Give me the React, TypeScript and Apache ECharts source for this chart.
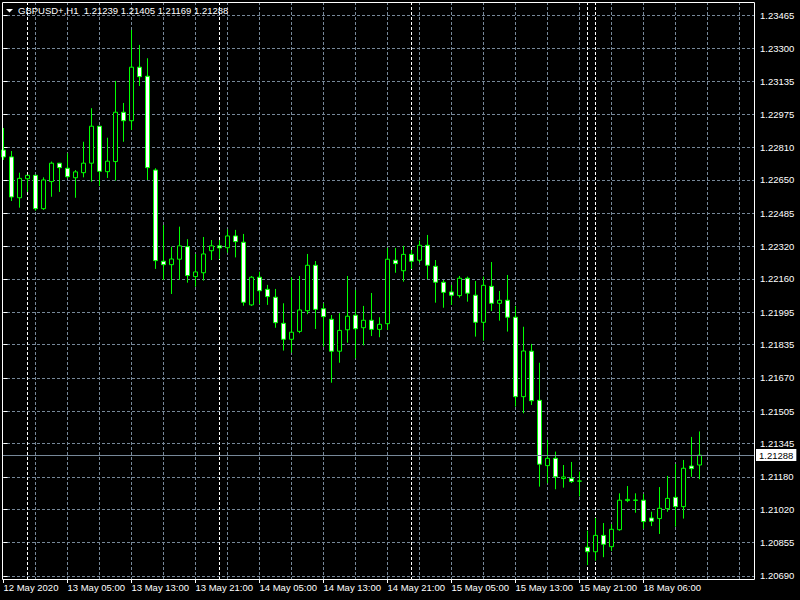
import React, { useEffect, useRef } from 'react';
import * as echarts from 'echarts';

const chartTitle = 'GBPUSD+,H1  1.21239 1.21405 1.21169 1.21288';

// Hourly bars, index 0 = 12 May 2020 21:00
const opens = [
  1.22797, 1.22763, 1.22561, 1.22655, 1.22672, 1.22507, 1.22641, 1.22732, 1.22707, 1.22660,
  1.22685, 1.22732, 1.22915, 1.22690, 1.22740, 1.22984, 1.22942, 1.23207, 1.23162, 1.22698,
  1.22247, 1.22230, 1.22257, 1.22319, 1.22171, 1.22190, 1.22299, 1.22323, 1.22314, 1.22372,
  1.22341, 1.22031, 1.22168, 1.22108, 1.22069, 1.21940, 1.21861, 1.21900, 1.22002, 1.22227,
  1.22012, 1.21960, 1.21802, 1.21908, 1.21980, 1.21918, 1.21955, 1.21910, 1.21938, 1.22252,
  1.22200, 1.22281, 1.22252, 1.22326, 1.22222, 1.22143, 1.22095, 1.22077, 1.22163, 1.22079,
  1.21945, 1.22123, 1.22039, 1.22054, 1.21970, 1.21577, 1.21802, 1.21559, 1.21236, 1.21272,
  1.21172, 1.21173, 1.21159, 1.20832, 1.20810, 1.20891, 1.20835, 1.20919, 1.21063, 1.21064,
  1.21065, 1.20977, 1.20974, 1.21023, 1.21079, 1.21033, 1.21234, 1.21239,
];
const closes = [
  1.22763, 1.22565, 1.22657, 1.22672, 1.22507, 1.22649, 1.22732, 1.22710, 1.22665, 1.22689,
  1.22732, 1.22915, 1.22692, 1.22742, 1.22984, 1.22942, 1.23207, 1.23160, 1.22710, 1.22250,
  1.22230, 1.22258, 1.22323, 1.22176, 1.22194, 1.22283, 1.22323, 1.22313, 1.22372, 1.22344,
  1.22044, 1.22168, 1.22101, 1.22072, 1.21943, 1.21861, 1.21896, 1.22006, 1.22227, 1.22009,
  1.21973, 1.21802, 1.21905, 1.21975, 1.21913, 1.21955, 1.21910, 1.21935, 1.22257, 1.22235,
  1.22281, 1.22247, 1.22326, 1.22227, 1.22143, 1.22093, 1.22079, 1.22163, 1.22089, 1.21945,
  1.22128, 1.22039, 1.22054, 1.21970, 1.21577, 1.21803, 1.21557, 1.21243, 1.21272, 1.21181,
  1.21180, 1.21157, 1.21160, 1.20810, 1.20891, 1.20847, 1.20921, 1.21065, 1.21069, 1.21066,
  1.20959, 1.20961, 1.21025, 1.21074, 1.21033, 1.21223, 1.21221, 1.21288,
];
const lows = [
  1.22748, 1.22545, 1.22512, 1.22590, 1.22497, 1.22501, 1.22566, 1.22590, 1.22657, 1.22561,
  1.22662, 1.22641, 1.22619, 1.22659, 1.22646, 1.22838, 1.22896, 1.23114, 1.22649, 1.22209,
  1.22154, 1.22085, 1.22154, 1.22141, 1.22121, 1.22151, 1.22253, 1.22258, 1.22289, 1.22266,
  1.22027, 1.22026, 1.22036, 1.22031, 1.21918, 1.21805, 1.21795, 1.21891, 1.21985, 1.21912,
  1.21824, 1.21646, 1.21745, 1.21844, 1.21767, 1.21831, 1.21877, 1.21871, 1.21907, 1.22190,
  1.22146, 1.22209, 1.22240, 1.22158, 1.22042, 1.22017, 1.22031, 1.22067, 1.22047, 1.21874,
  1.21854, 1.22001, 1.21953, 1.21899, 1.21528, 1.21495, 1.21536, 1.21132, 1.21149, 1.21119,
  1.21127, 1.21150, 1.21084, 1.20744, 1.20766, 1.20783, 1.20814, 1.20914, 1.21055, 1.21003,
  1.20924, 1.20937, 1.20898, 1.21008, 1.20934, 1.20974, 1.21181, 1.21169,
];
const highs = [
  1.22906, 1.22792, 1.22685, 1.22674, 1.22674, 1.22662, 1.22740, 1.22733, 1.22781, 1.22698,
  1.22838, 1.23004, 1.22916, 1.22858, 1.23139, 1.23030, 1.23391, 1.23317, 1.23251, 1.22707,
  1.22426, 1.22319, 1.22418, 1.22356, 1.22283, 1.22367, 1.22352, 1.22352, 1.22405, 1.22402,
  1.22382, 1.22174, 1.22195, 1.22130, 1.22110, 1.22039, 1.22168, 1.22174, 1.22283, 1.22248,
  1.22039, 1.21981, 1.21990, 1.22174, 1.22105, 1.22026, 1.22090, 1.21970, 1.22313, 1.22313,
  1.22323, 1.22303, 1.22349, 1.22377, 1.22253, 1.22154, 1.22130, 1.22174, 1.22171, 1.22149,
  1.22171, 1.22243, 1.22100, 1.22179, 1.22026, 1.21923, 1.21838, 1.21745, 1.21363, 1.21305,
  1.21239, 1.21254, 1.21206, 1.20914, 1.20977, 1.20952, 1.20947, 1.21099, 1.21135, 1.21099,
  1.21096, 1.21008, 1.21130, 1.21185, 1.21244, 1.21264, 1.21378, 1.21405,
];

// Time-scale labels (bar index where each label sits)
const xTickBars = [0, 8, 16, 24, 32, 40, 48, 56, 64, 72, 80];
const xTickLabels = [
  '12 May 2020', '13 May 05:00', '13 May 13:00', '13 May 21:00', '14 May 05:00',
  '14 May 13:00', '14 May 21:00', '15 May 05:00', '15 May 13:00', '15 May 21:00', '18 May 06:00',
];
// Vertical grid lines (bar index)
const xGridBars = [4, 8, 12, 16, 20, 24, 28, 32, 36, 40, 44, 48, 52, 56, 60, 64, 68, 72, 76, 80, 84, 88, 92];
// Day separators (bar index)
const daySeparators = [3, 27, 51, 73, 74];
// Price scale labels
const yTicks = [
  1.20690, 1.20855, 1.21020, 1.21180, 1.21345, 1.21505, 1.21670, 1.21835, 1.21995,
  1.22160, 1.22320, 1.22485, 1.22650, 1.22810, 1.22975, 1.23135, 1.23300, 1.23465,
];
const lastPrice = 1.21288;

const yMin = 1.2067516;
const yMax = 1.2352931;
const xMin = -0.1875;
const xMax = 93.8125;

const FONT = 'Liberation Sans';
const GRID_COLOR = '#778899';

export default function App() {
  const ref = useRef<HTMLDivElement>(null);

  useEffect(() => {
    if (!ref.current) return;
    const chart = echarts.init(ref.current, null, { renderer: 'svg' });
    const candles = opens.map((o, i) => [i, o, closes[i], lows[i], highs[i]]);

    const option: any = {
      animation: false,
      backgroundColor: '#000000',
      grid: { left: 2, right: 46, top: 2, bottom: 21, containLabel: false },
      xAxis: [
        {
          type: 'value', position: 'top', min: xMin, max: xMax,
          axisLine: { show: false },
          axisTick: { show: false, customValues: xGridBars },
          axisLabel: { show: false },
          splitLine: { show: true, lineStyle: { color: GRID_COLOR, width: 1, type: [3, 2] } },
        },
        {
          type: 'value', position: 'bottom', min: xMin, max: xMax,
          axisLine: { show: false },
          axisTick: { show: true, length: 4, customValues: xTickBars, lineStyle: { color: '#ffffff' } },
          axisLabel: {
            show: true, customValues: xTickBars,
            formatter: (v: number) => {
              const idx = xTickBars.indexOf(Math.round(v));
              return idx >= 0 ? xTickLabels[idx] : '';
            },
            color: '#ffffff', fontFamily: FONT, fontSize: 9.5, align: 'left', margin: 3,
          },
          splitLine: { show: false },
        },
        {
          type: 'value', position: 'top', min: xMin, max: xMax,
          axisLine: { show: false },
          axisTick: { show: false, customValues: daySeparators },
          axisLabel: { show: false },
          splitLine: { show: true, lineStyle: { color: '#ffffff', width: 1, type: [3, 2] } },
        },
      ],
      yAxis: {
        type: 'value', position: 'right', min: yMin, max: yMax,
        axisLine: { show: false },
        axisTick: { show: true, length: 4, customValues: yTicks, lineStyle: { color: '#ffffff' } },
        axisLabel: {
          show: true, customValues: yTicks,
          formatter: (v: number) => v.toFixed(5),
          color: '#ffffff', fontFamily: FONT, fontSize: 9.5, margin: 6,
        },
        splitLine: { show: true, lineStyle: { color: GRID_COLOR, width: 1, type: [3, 2] } },
      },
      graphic: [
        {
          type: 'rect', silent: true, z: 100,
          shape: { x: 2.5, y: 2.5, width: 752, height: 577 },
          style: { fill: 'none', stroke: '#ffffff', lineWidth: 1 },
        },
        {
          type: 'polygon', silent: true, z: 100,
          shape: { points: [[6, 9], [13, 9], [9.5, 12.5]] },
          style: { fill: '#ffffff' },
        },
        {
          type: 'text', silent: true, z: 100, x: 18, y: 10,
          style: {
            text: chartTitle, fill: '#ffffff', font: `9.5px "${FONT}"`,
            verticalAlign: 'middle', align: 'left',
          },
        },
      ],
      series: [
        {
          type: 'candlestick',
          xAxisIndex: 0,
          yAxisIndex: 0,
          data: candles,
          encode: { x: 0, y: [1, 2, 3, 4] },
          barWidth: 4,
          itemStyle: {
            color: '#000000', color0: '#ffffff',
            borderColor: '#00ff00', borderColor0: '#00ff00', borderWidth: 1,
          },
          z: 3,
        },
        {
          type: 'line',
          xAxisIndex: 0,
          yAxisIndex: 0,
          data: [],
          z: 4,
          markLine: {
            silent: true, symbol: 'none', animation: false, precision: 5,
            data: [
              {
                yAxis: lastPrice,
                lineStyle: { color: GRID_COLOR, type: 'solid', width: 1 },
                label: {
                  show: true, position: 'end', distance: 2,
                  formatter: lastPrice.toFixed(5),
                  backgroundColor: '#ffffff', color: '#000000',
                  fontFamily: FONT, fontSize: 9.5, padding: [1, 3, 1, 3],
                },
              },
            ],
          },
        },
      ],
    };
    chart.setOption(option);
    return () => chart.dispose();
  }, []);

  return (
    <div
      ref={ref}
      style={{ position: 'absolute', left: 0, top: 0, width: 800, height: 600, background: '#000' }}
    />
  );
}
